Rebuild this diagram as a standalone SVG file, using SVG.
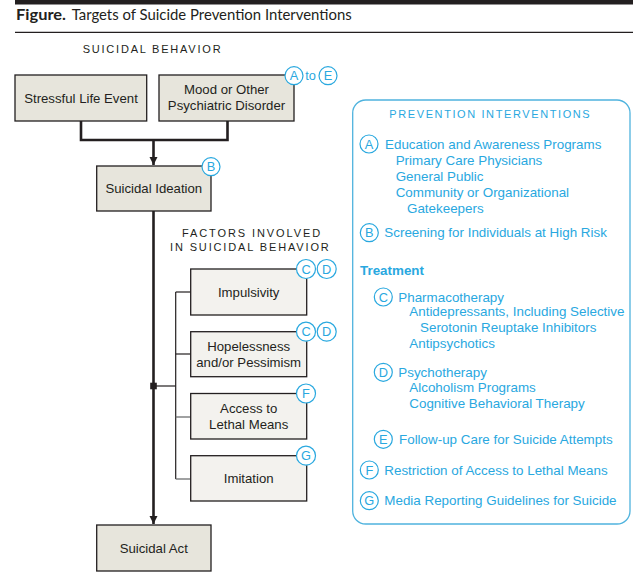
<svg xmlns="http://www.w3.org/2000/svg" width="640" height="577" viewBox="0 0 640 577">
<style>
.t{font-family:"Liberation Sans",Arial,sans-serif;font-size:13.2px;fill:#231f20;text-anchor:middle}
.cap{font-family:"Liberation Sans",Arial,sans-serif;font-size:11px;fill:#231f20}
.b1{fill:#e7e5dc;stroke:#231f20;stroke-width:1.3}
.b2{fill:#f3f2ee;stroke:#231f20;stroke-width:1.3}
.c{fill:#fff;stroke:#29a8df;stroke-width:1.2}
.cl{font-family:"Liberation Sans",Arial,sans-serif;font-size:12.8px;fill:#29a8df;text-anchor:middle}
.p{font-family:"Liberation Sans",Arial,sans-serif;font-size:13.4px;fill:#29a8df}
.thick{stroke:#231f20;stroke-width:2.6;fill:none}
.thin{stroke:#231f20;stroke-width:1.2;fill:none}
.tick{stroke:#6d6e70;stroke-width:1.3;fill:none}
</style>
<defs>
<marker id="ah" viewBox="0 0 10 10" refX="10" refY="5" markerWidth="3.2" markerHeight="3.6" markerUnits="strokeWidth" orient="auto">
<path d="M0,0 L10,5 L0,10 z" fill="#231f20"/>
</marker>
</defs>
<rect width="640" height="577" fill="#fff"/>
<!-- header -->
<rect x="15" y="0" width="618" height="4.5" fill="#231f20"/>
<text x="16" y="20" font-family="Lato,'Open Sans',sans-serif" font-size="15" font-weight="bold" fill="#231f20" textLength="50" lengthAdjust="spacingAndGlyphs">Figure.</text>
<text x="71.7" y="20" font-family="Lato,'Open Sans',sans-serif" font-size="15" fill="#231f20" textLength="280" lengthAdjust="spacingAndGlyphs">Targets of Suicide Prevention Interventions</text>
<line x1="15" y1="32.3" x2="633" y2="32.3" stroke="#231f20" stroke-width="1.2"/>
<text class="cap" x="82.7" y="53" letter-spacing="1.78">SUICIDAL BEHAVIOR</text>
<text class="cap" x="182" y="237" letter-spacing="1.9">FACTORS INVOLVED</text>
<text class="cap" x="170" y="251" letter-spacing="1.86">IN SUICIDAL BEHAVIOR</text>

<!-- connectors -->
<g id="connectors">
<polyline class="thick" points="81,121 81,140 227.5,140 227.5,121"/>
<line class="thick" x1="153.5" y1="140" x2="153.5" y2="165" marker-end="url(#ah)"/>
<line class="thick" x1="153.5" y1="211" x2="153.5" y2="524" marker-end="url(#ah)"/>
<line class="thin" x1="175.7" y1="292" x2="175.7" y2="479"/>
<line class="thin" x1="153.5" y1="386" x2="175.7" y2="386"/>
<rect x="150.2" y="382.7" width="6.6" height="6.6" fill="#231f20"/>
<line class="thin" x1="175.7" y1="292" x2="190.7" y2="292"/>
<line class="thin" x1="175.7" y1="354" x2="190.7" y2="354"/>
<line class="tick" x1="175.7" y1="417" x2="190.7" y2="417"/>
<line class="tick" x1="175.7" y1="479" x2="190.7" y2="479"/>
</g>

<g id="stressful">
<rect class="b1" x="15" y="75" width="131.7" height="46"/>
<text class="t" x="81" y="102.7">Stressful Life Event</text>
</g>
<g id="mood">
<rect class="b1" x="159" y="75" width="135" height="46"/>
<text class="t" x="226.5" y="94">Mood or Other</text>
<text class="t" x="226.5" y="109.7">Psychiatric Disorder</text>
<circle class="c" cx="294" cy="75.7" r="9"/><text class="cl" x="294" y="80.2">A</text>
<text class="cl" x="310.5" y="80.2">to</text>
<circle class="c" cx="328" cy="75.7" r="9"/><text class="cl" x="328" y="80.2">E</text>
</g>
<g id="ideation">
<rect class="b1" x="96.7" y="166" width="114.3" height="45"/>
<text class="t" x="153.8" y="193">Suicidal Ideation</text>
<circle class="c" cx="211" cy="166.7" r="9"/><text class="cl" x="211" y="171.2">B</text>
</g>
<g id="impulsivity">
<rect class="b2" x="190.7" y="269" width="116" height="46"/>
<text class="t" x="248.7" y="296.7">Impulsivity</text>
<circle class="c" cx="306" cy="269" r="9.5"/><text class="cl" x="306" y="273.5">C</text>
<circle class="c" cx="326.7" cy="269" r="9.5"/><text class="cl" x="326.7" y="273.5">D</text>
</g>
<g id="hopelessness">
<rect class="b2" x="190.7" y="331.7" width="116" height="45"/>
<text class="t" x="248.7" y="351.4">Hopelessness</text>
<text class="t" x="248.7" y="367.4">and/or Pessimism</text>
<circle class="c" cx="306" cy="331.7" r="9.5"/><text class="cl" x="306" y="336.2">C</text>
<circle class="c" cx="326.7" cy="331.7" r="9.5"/><text class="cl" x="326.7" y="336.2">D</text>
</g>
<g id="access">
<rect class="b2" x="190.7" y="393.5" width="116" height="45.5"/>
<text class="t" x="248.7" y="413">Access to</text>
<text class="t" x="248.7" y="429">Lethal Means</text>
<circle class="c" cx="306" cy="393.5" r="9.5"/><text class="cl" x="306" y="398">F</text>
</g>
<g id="imitation">
<rect class="b2" x="190.7" y="455.7" width="116" height="45.3"/>
<text class="t" x="248.7" y="483">Imitation</text>
<circle class="c" cx="306" cy="455.7" r="9.5"/><text class="cl" x="306" y="460.2">G</text>
</g>
<g id="act">
<rect class="b1" x="96.7" y="525" width="114.3" height="46"/>
<text class="t" x="153.8" y="553">Suicidal Act</text>
</g>

<g id="interventions">
<rect x="352.7" y="100" width="277.3" height="424" rx="13" fill="#fff" stroke="#4fb3de" stroke-width="1.3"/>
<text class="cap" x="389.3" y="118" letter-spacing="1.6" style="fill:#29a8df">PREVENTION INTERVENTIONS</text>
<circle class="c" cx="369" cy="144" r="9"/><text class="cl" x="369" y="148.5">A</text>
<text class="p" x="385" y="149">Education and Awareness Programs</text>
<text class="p" x="395.7" y="165.4">Primary Care Physicians</text>
<text class="p" x="395.7" y="181.4">General Public</text>
<text class="p" x="395.7" y="197.4">Community or Organizational</text>
<text class="p" x="407" y="213">Gatekeepers</text>
<circle class="c" cx="369.3" cy="232.7" r="9"/><text class="cl" x="369.3" y="237.2">B</text>
<text class="p" x="384.3" y="237.4">Screening for Individuals at High Risk</text>
<text class="p" x="360" y="274.7" font-weight="bold">Treatment</text>
<circle class="c" cx="383.3" cy="297" r="9"/><text class="cl" x="383.3" y="301.5">C</text>
<text class="p" x="398.3" y="301.7">Pharmacotherapy</text>
<text class="p" x="409.3" y="316.4">Antidepressants, Including Selective</text>
<text class="p" x="420" y="332.4">Serotonin Reuptake Inhibitors</text>
<text class="p" x="409.3" y="348">Antipsychotics</text>
<circle class="c" cx="383.3" cy="372.3" r="9"/><text class="cl" x="383.3" y="376.8">D</text>
<text class="p" x="398.3" y="377">Psychotherapy</text>
<text class="p" x="409.3" y="392.4">Alcoholism Programs</text>
<text class="p" x="409.3" y="408">Cognitive Behavioral Therapy</text>
<circle class="c" cx="383.3" cy="439.3" r="9"/><text class="cl" x="383.3" y="443.8">E</text>
<text class="p" x="399" y="444">Follow-up Care for Suicide Attempts</text>
<circle class="c" cx="369.3" cy="470" r="9"/><text class="cl" x="369.3" y="474.5">F</text>
<text class="p" x="384.3" y="474.7">Restriction of Access to Lethal Means</text>
<circle class="c" cx="369.3" cy="500.7" r="9"/><text class="cl" x="369.3" y="505.2">G</text>
<text class="p" x="384.3" y="505.4">Media Reporting Guidelines for Suicide</text>
</g>
</svg>
